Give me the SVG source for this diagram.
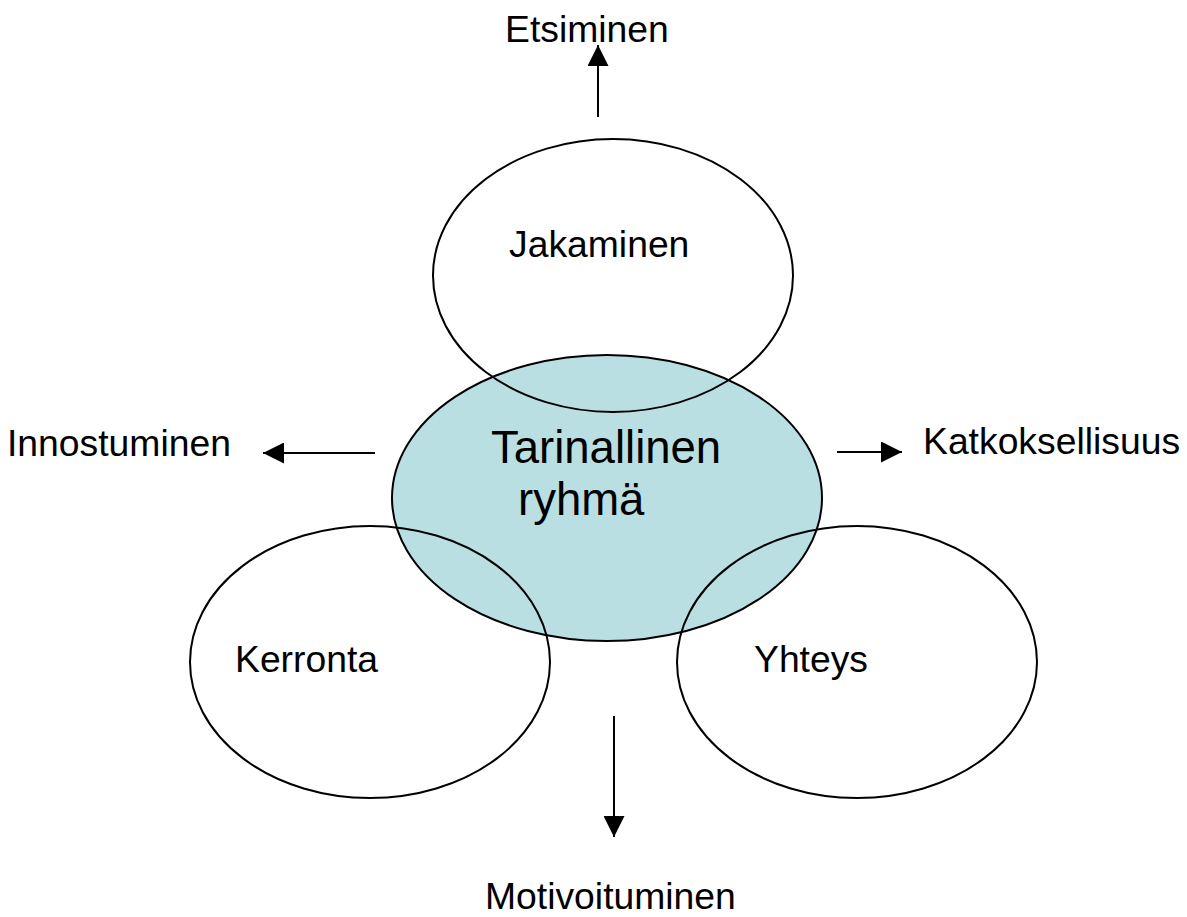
<svg xmlns="http://www.w3.org/2000/svg" width="1187" height="917" viewBox="0 0 1187 917">
<style>
  .bg { fill: #ffffff; }
  .ell { fill: none; stroke: #000; stroke-width: 2; }
  .center { fill: #BADFE3; stroke: #000; stroke-width: 2; }
  .lbl { font-family: "Liberation Sans", Arial, sans-serif; font-size: 37.3px; fill: #000; }
  .big { font-family: "Liberation Sans", Arial, sans-serif; font-size: 45.5px; fill: #000; }
  .conn { stroke: #000; stroke-width: 2; fill: none; marker-end: url(#arrow); }
</style>
<defs>
  <marker id="arrow" viewBox="0 0 21 21" refX="21" refY="10.5" markerWidth="21" markerHeight="21" markerUnits="userSpaceOnUse" orient="auto">
    <path d="M0,0 L21,10.5 L0,21 z" fill="#000"/>
  </marker>
</defs>
<rect class="bg" x="0" y="0" width="1187" height="917"/>

<g id="node-tarinallinen">
  <ellipse class="center" cx="607" cy="498" rx="215" ry="143"/>
</g>
<g id="node-jakaminen">
  <ellipse class="ell" cx="613" cy="275.5" rx="180" ry="136.5"/>
  <text class="lbl" x="509" y="257">Jakaminen</text>
</g>
<g id="node-kerronta">
  <ellipse class="ell" cx="370" cy="662" rx="180" ry="136"/>
  <text class="lbl" x="235" y="672">Kerronta</text>
</g>
<g id="node-yhteys">
  <ellipse class="ell" cx="857" cy="662" rx="180" ry="136"/>
  <text class="lbl" x="754" y="672">Yhteys</text>
</g>
<g id="node-tarinallinen-label">
  <text class="big" x="491" y="463">Tarinallinen</text>
  <text class="big" x="518" y="515">ryhmä</text>
</g>

<g id="node-etsiminen">
  <text class="lbl" x="505" y="42">Etsiminen</text>
</g>
<g id="node-innostuminen">
  <text class="lbl" x="7" y="456">Innostuminen</text>
</g>
<g id="node-katkoksellisuus">
  <text class="lbl" x="923" y="454">Katkoksellisuus</text>
</g>
<g id="node-motivoituminen">
  <text class="lbl" x="485" y="909">Motivoituminen</text>
</g>

<g id="connectors">
  <line class="conn" x1="598" y1="117" x2="598" y2="45"/>
  <line class="conn" x1="375" y1="453" x2="263" y2="453"/>
  <line class="conn" x1="837" y1="452" x2="902" y2="452"/>
  <line class="conn" x1="614" y1="716" x2="614" y2="837"/>
</g>
</svg>
